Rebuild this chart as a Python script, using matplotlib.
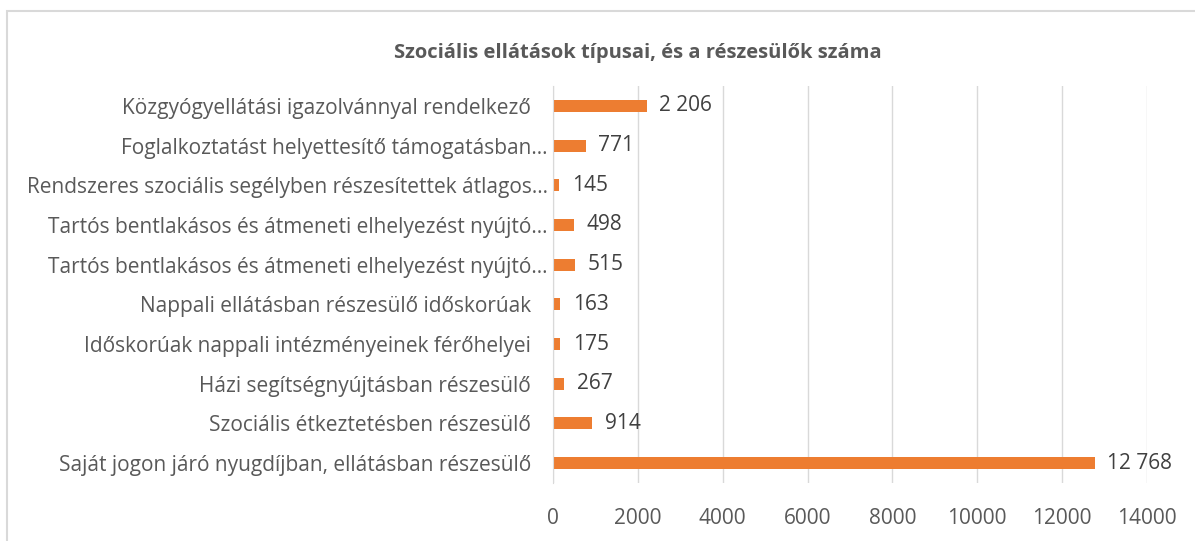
import matplotlib
matplotlib.use("Agg")
import matplotlib.pyplot as plt
from matplotlib.patches import Rectangle
from matplotlib.transforms import ScaledTranslation

# categories from bottom to top, as they appear on the chart
categories = [
    "Saját jogon járó nyugdíjban, ellátásban részesülő",
    "Szociális étkeztetésben részesülő",
    "Házi segítségnyújtásban részesülő",
    "Időskorúak nappali intézményeinek férőhelyei",
    "Nappali ellátásban részesülő időskorúak",
    "Tartós bentlakásos és átmeneti elhelyezést nyújtó...",
    "Tartós bentlakásos és átmeneti elhelyezést nyújtó...",
    "Rendszeres szociális segélyben részesítettek átlagos...",
    "Foglalkoztatást helyettesítő támogatásban...",
    "Közgyógyellátási igazolvánnyal rendelkező",
]
values = [12768, 914, 267, 175, 163, 515, 498, 145, 771, 2206]
xticks = [0, 2000, 4000, 6000, 8000, 10000, 12000, 14000]
title = "Szociális ellátások típusai, és a részesülők száma"

bar_color = "#ED7D31"
text_color = "#595959"

plt.rcParams['font.family'] = ['Open Sans', 'DejaVu Sans']

W, H = 1195, 541
fig = plt.figure(figsize=(W / 100, H / 100), dpi=100)
ax = fig.add_axes([553 / W, 1 - 483 / H, (1147 - 553) / W, (483 - 86) / H])

pos = range(len(categories))
ax.barh(pos, values, height=0.3, color=bar_color, zorder=2)

for y, v in zip(pos, values):
    lab = f"{v:,}".replace(",", " ")
    ax.text(v + 300, y, lab, va="center", ha="left", fontsize=15,
            color="#404040", zorder=4)

ax.set_xlim(0, 14000)
ax.set_ylim(-0.5, len(categories) - 0.5)
ax.set_xticks(xticks)
ax.set_xticklabels([str(t) for t in xticks], fontsize=15, color=text_color)
ax.set_yticks(list(pos))
ax.set_yticklabels(categories, fontsize=15, color=text_color)
ax.tick_params(axis="both", length=0)
ax.tick_params(axis="y", pad=16)
ax.tick_params(axis="x", pad=18)

# truncated labels sit a bit closer to the axis
for lbl in ax.get_yticklabels():
    if lbl.get_text().endswith("..."):
        lbl.set_transform(lbl.get_transform()
                          + ScaledTranslation(0.17, 0, fig.dpi_scale_trans))

ax.grid(axis="x", color="#D9D9D9", linewidth=1, zorder=0)
ax.set_axisbelow(True)
for s in ["top", "right", "bottom"]:
    ax.spines[s].set_visible(False)
ax.spines["left"].set_color("#D9D9D9")
ax.spines["left"].set_zorder(3)

fig.text((397 + 878) / 2 / W, 1 - 53 / H, title, ha="center", va="center",
         fontsize=14.5, fontweight="bold", color=text_color)

# chart area border
fig.patches.append(Rectangle((7 / W, -0.2), 1.2, 1 - 11 / H + 0.2,
                             transform=fig.transFigure, fill=False,
                             edgecolor="#D9D9D9", linewidth=1.5))

fig.savefig("out.png", dpi=100)
